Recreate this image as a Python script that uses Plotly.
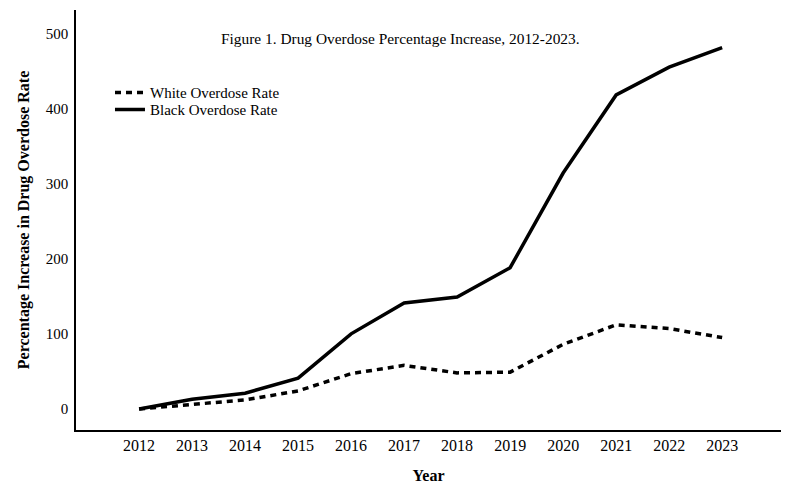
import plotly.graph_objects as go

years = [2012, 2013, 2014, 2015, 2016, 2017, 2018, 2019, 2020, 2021, 2022, 2023]
white_rate = [0, 6, 12, 24, 47, 58, 48, 49, 86, 112, 107, 95]
black_rate = [0, 13, 21, 41, 100, 141, 149, 188, 314, 418, 455, 481]
y_ticks = [0, 100, 200, 300, 400, 500]

FONT = "Liberation Serif, Times New Roman, serif"

fig = go.Figure()
fig.add_trace(go.Scatter(x=years, y=white_rate, mode="lines", name="White Overdose Rate",
                         legend="legend",
                         line=dict(color="black", width=3.5, dash="6px,5px")))
fig.add_trace(go.Scatter(x=years, y=black_rate, mode="lines", name="Black Overdose Rate",
                         legend="legend2",
                         line=dict(color="black", width=3.5)))

leg_common = dict(xanchor="left", yanchor="top", bgcolor="rgba(0,0,0,0)",
                  font=dict(size=15, family=FONT), itemwidth=30)

fig.update_layout(
    width=803, height=503,
    margin=dict(l=68, r=30, t=2, b=81),
    paper_bgcolor="white", plot_bgcolor="white",
    font=dict(family=FONT, size=14, color="black"),
    showlegend=True,
    legend=dict(x=0.0482, y=0.8425, **leg_common),
    legend2=dict(x=0.0482, y=0.802, **leg_common),
    xaxis=dict(range=[2010.81, 2024.11], tickmode="array", tickvals=years,
               ticktext=[str(y) for y in years], showgrid=False, zeroline=False,
               showline=True, linecolor="black", linewidth=1.5, ticks="",
               tickfont=dict(size=16, family=FONT),
               title=dict(text="<b>Year</b>", font=dict(size=16, family=FONT), standoff=17)),
    yaxis=dict(range=[-28, 531], tickmode="array", tickvals=y_ticks,
               showgrid=False, zeroline=False, showline=True, linecolor="black",
               linewidth=1.5, ticks="", ticklabelstandoff=3,
               tickfont=dict(size=15, family=FONT),
               title=dict(text="<b>Percentage Increase in Drug Overdose Rate</b>",
                          font=dict(size=16, family=FONT), standoff=12)),
    annotations=[dict(text="Figure 1. Drug Overdose Percentage Increase, 2012-2023.",
                      xref="paper", yref="paper", x=0.4596, y=0.933,
                      xanchor="center", yanchor="middle", showarrow=False,
                      font=dict(size=15.4, family=FONT))],
)

fig.write_html("out.html")
